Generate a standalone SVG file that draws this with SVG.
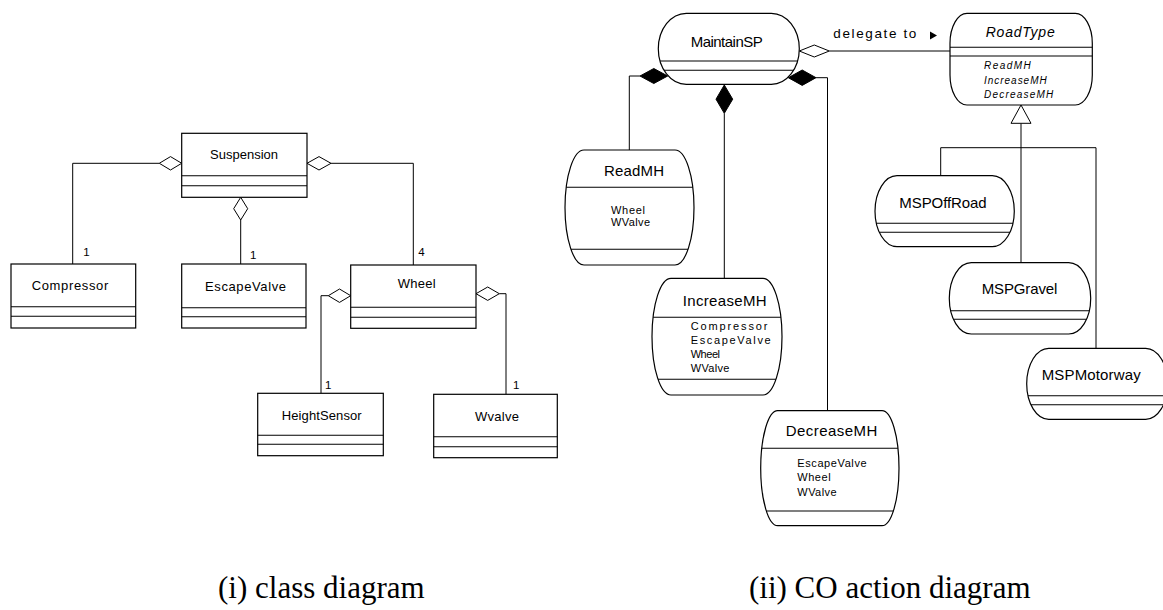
<svg xmlns="http://www.w3.org/2000/svg" width="1163" height="610" viewBox="0 0 1163 610">
<style>
.box{fill:#fff;stroke:#000;stroke-width:1.2}
.dv{fill:none;stroke:#000;stroke-width:1.1}
.ln{fill:none;stroke:#000;stroke-width:1}
.od{fill:#fff;stroke:#000;stroke-width:1}
.fd{fill:#000;stroke:#000;stroke-width:1}
.t{font-family:"Liberation Sans",Arial,sans-serif;fill:#000}
.lc{font-size:13px}
.m{font-size:11.5px}
.rn{font-size:15px}
.it{font-size:11px}
.ri{font-style:italic}
.cap{font-family:"Liberation Serif","Times New Roman",serif;font-size:31px;fill:#000}
</style>
<rect width="1163" height="610" fill="#fff"/>

<g id="connectors">
  <!-- left class diagram -->
  <polyline class="ln" points="159.3,163.3 72.7,163.3 72.7,264"/>
  <polygon class="od" points="181.7,163.3 170.5,156.6 159.3,163.3 170.5,170"/>
  <polyline class="ln" points="240.7,220 240.7,264"/>
  <polygon class="od" points="240.7,197.3 247.7,208.7 240.7,220 233.7,208.7"/>
  <polyline class="ln" points="331,163.3 413.3,163.3 413.3,265"/>
  <polygon class="od" points="307,163.3 319,156.6 331,163.3 319,170"/>
  <polyline class="ln" points="328.3,295.7 321,295.7 321,393.3"/>
  <polygon class="od" points="350.7,295.7 339.5,289 328.3,295.7 339.5,302.4"/>
  <polyline class="ln" points="499.3,293.7 506,293.7 506,394.3"/>
  <polygon class="od" points="476,293.7 487.7,287 499.3,293.7 487.7,300.4"/>
  <text class="t m" x="83.3" y="256">1</text>
  <text class="t m" x="250" y="259">1</text>
  <text class="t m" x="418.3" y="256">4</text>
  <text class="t m" x="325" y="389">1</text>
  <text class="t m" x="513" y="389">1</text>

  <!-- right CO action diagram -->
  <polyline class="ln" points="640,76 629.3,76 629.3,150"/>
  <polygon class="fd" points="667.7,76 653.8,68.5 640,76 653.8,83.5"/>
  <polyline class="ln" points="724.3,113.3 724.3,278.3"/>
  <polygon class="fd" points="724.3,85 732.7,99.2 724.3,113.3 716,99.2"/>
  <polyline class="ln" points="816,77.7 827.5,77.7 827.5,410.7"/>
  <polygon class="fd" points="788.3,77.7 802.2,70 816,77.7 802.2,85.4"/>
  <polyline class="ln" points="829.3,51 950,51"/>
  <polygon class="od" points="799.3,51 814.3,45 829.3,51 814.3,57"/>
  <text class="t" font-size="13.5px" x="833.3" y="37.5" textLength="83" lengthAdjust="spacing">delegate to</text>
  <polygon points="930,31.5 937,35.5 930,39.5" fill="#000"/>
  <polyline class="ln" points="1021,123.3 1021,262.7"/>
  <polyline class="ln" points="940.7,147.7 1096,147.7"/>
  <polyline class="ln" points="940.7,147.7 940.7,175.7"/>
  <polyline class="ln" points="1096,147.7 1096,348.3"/>
  <polygon class="od" points="1021,105 1031,123.3 1011,123.3"/>
</g>

<g id="Suspension">
  <rect class="box" x="181.7" y="133.3" width="125.3" height="64"/>
  <line class="dv" x1="181.7" y1="175.7" x2="307" y2="175.7"/>
  <line class="dv" x1="181.7" y1="185.7" x2="307" y2="185.7"/>
  <text class="t lc" x="210" y="159" textLength="68" lengthAdjust="spacing">Suspension</text>
</g>
<g id="Compressor">
  <rect class="box" x="11" y="264" width="124.7" height="64"/>
  <line class="dv" x1="11" y1="306.7" x2="135.7" y2="306.7"/>
  <line class="dv" x1="11" y1="316.3" x2="135.7" y2="316.3"/>
  <text class="t lc" x="31.7" y="290" textLength="76.6" lengthAdjust="spacing">Compressor</text>
</g>
<g id="EscapeValve">
  <rect class="box" x="181.7" y="264" width="124.3" height="64"/>
  <line class="dv" x1="181.7" y1="307.7" x2="306" y2="307.7"/>
  <line class="dv" x1="181.7" y1="316.7" x2="306" y2="316.7"/>
  <text class="t lc" x="205" y="291" textLength="81" lengthAdjust="spacing">EscapeValve</text>
</g>
<g id="Wheel">
  <rect class="box" x="350.7" y="265" width="125.3" height="63.3"/>
  <line class="dv" x1="350.7" y1="307.3" x2="476" y2="307.3"/>
  <line class="dv" x1="350.7" y1="317.3" x2="476" y2="317.3"/>
  <text class="t lc" x="397.7" y="288.3" textLength="38" lengthAdjust="spacing">Wheel</text>
</g>
<g id="HeightSensor">
  <rect class="box" x="257.7" y="393.3" width="125.6" height="62.4"/>
  <line class="dv" x1="257.7" y1="435.3" x2="383.3" y2="435.3"/>
  <line class="dv" x1="257.7" y1="444.3" x2="383.3" y2="444.3"/>
  <text class="t lc" x="281.7" y="420" textLength="80" lengthAdjust="spacing">HeightSensor</text>
</g>
<g id="Wvalve">
  <rect class="box" x="433.7" y="394.3" width="123.6" height="63.4"/>
  <line class="dv" x1="433.7" y1="436.7" x2="557.3" y2="436.7"/>
  <line class="dv" x1="433.7" y1="446.7" x2="557.3" y2="446.7"/>
  <text class="t lc" x="475" y="421" textLength="44" lengthAdjust="spacing">Wvalve</text>
</g>

<g id="MaintainSP">
  <rect class="box" x="658.3" y="13.3" width="141" height="71" rx="28" ry="35.5"/>
  <line class="dv" x1="660" y1="61" x2="797.6" y2="61"/>
  <line class="dv" x1="664" y1="70.3" x2="793.6" y2="70.3"/>
  <text class="t rn" x="690.7" y="46.7" textLength="72" lengthAdjust="spacing">MaintainSP</text>
</g>
<g id="RoadType">
  <rect class="box" x="950" y="13.3" width="142.3" height="91.7" rx="17" ry="30"/>
  <line class="dv" x1="950" y1="47.3" x2="1092.3" y2="47.3"/>
  <line class="dv" x1="950" y1="56" x2="1092.3" y2="56"/>
  <text class="t ri" font-size="14px" x="985.7" y="37.3" textLength="69" lengthAdjust="spacing">RoadType</text>
  <text class="t ri" font-size="10px" x="984" y="69" textLength="46.7" lengthAdjust="spacing">ReadMH</text>
  <text class="t ri" font-size="10px" x="984" y="84" textLength="62.7" lengthAdjust="spacing">IncreaseMH</text>
  <text class="t ri" font-size="10px" x="984" y="97.5" textLength="69.3" lengthAdjust="spacing">DecreaseMH</text>
</g>
<g id="ReadMH">
  <rect class="box" x="565" y="150" width="129" height="115" rx="19" ry="57.5"/>
  <line class="dv" x1="566.2" y1="187.3" x2="692.8" y2="187.3"/>
  <line class="dv" x1="570.9" y1="249.3" x2="688.1" y2="249.3"/>
  <text class="t rn" x="604" y="176" textLength="60" lengthAdjust="spacing">ReadMH</text>
  <text class="t it" x="611" y="214" textLength="34" lengthAdjust="spacing">Wheel</text>
  <text class="t it" x="611" y="226" textLength="39" lengthAdjust="spacing">WValve</text>
</g>
<g id="IncreaseMH">
  <rect class="box" x="652" y="278.3" width="130" height="116.7" rx="19" ry="58.3"/>
  <line class="dv" x1="653.1" y1="317.3" x2="780.9" y2="317.3"/>
  <line class="dv" x1="658" y1="379.3" x2="776" y2="379.3"/>
  <text class="t rn" x="682.7" y="306" textLength="84" lengthAdjust="spacing">IncreaseMH</text>
  <text class="t it" x="690.7" y="330" textLength="76.7" lengthAdjust="spacing">Compressor</text>
  <text class="t it" x="690.7" y="344" textLength="80" lengthAdjust="spacing">EscapeValve</text>
  <text class="t it" x="690.7" y="357.7" textLength="29.3" lengthAdjust="spacing">Wheel</text>
  <text class="t it" x="690.7" y="371.7" textLength="38.7" lengthAdjust="spacing">WValve</text>
</g>
<g id="DecreaseMH">
  <rect class="box" x="760.7" y="410.7" width="138.3" height="115" rx="17" ry="57.5"/>
  <line class="dv" x1="761.8" y1="448.3" x2="897.9" y2="448.3"/>
  <line class="dv" x1="766.3" y1="511" x2="893.4" y2="511"/>
  <text class="t rn" x="785.7" y="436" textLength="91.7" lengthAdjust="spacing">DecreaseMH</text>
  <text class="t it" x="797.3" y="467.3" textLength="69.3" lengthAdjust="spacing">EscapeValve</text>
  <text class="t it" x="797.3" y="481" textLength="33.3" lengthAdjust="spacing">Wheel</text>
  <text class="t it" x="797.3" y="495.7" textLength="39.3" lengthAdjust="spacing">WValve</text>
</g>
<g id="MSPOffRoad">
  <rect class="box" x="875" y="175.7" width="139.3" height="71" rx="22" ry="35.5"/>
  <line class="dv" x1="876.3" y1="223.3" x2="1013" y2="223.3"/>
  <line class="dv" x1="879.3" y1="232.3" x2="1010" y2="232.3"/>
  <text class="t rn" x="899.3" y="208.3" textLength="87.4" lengthAdjust="spacing">MSPOffRoad</text>
</g>
<g id="MSPGravel">
  <rect class="box" x="949.3" y="262.7" width="141.4" height="71.3" rx="22" ry="35.6"/>
  <line class="dv" x1="950.7" y1="310.7" x2="1089.3" y2="310.7"/>
  <line class="dv" x1="953.6" y1="319.3" x2="1086.4" y2="319.3"/>
  <text class="t rn" x="981.7" y="294" textLength="75.6" lengthAdjust="spacing">MSPGravel</text>
</g>
<g id="MSPMotorway">
  <rect class="box" x="1026.7" y="348.3" width="141" height="71" rx="22" ry="35.5"/>
  <line class="dv" x1="1028" y1="395.7" x2="1166.4" y2="395.7"/>
  <line class="dv" x1="1031" y1="404.7" x2="1163.4" y2="404.7"/>
  <text class="t rn" x="1041.7" y="380" textLength="99" lengthAdjust="spacing">MSPMotorway</text>
</g>

<g id="captions">
  <text class="cap" x="218" y="598">(i) class diagram</text>
  <text class="cap" x="749" y="598">(ii) CO action diagram</text>
</g>
</svg>
